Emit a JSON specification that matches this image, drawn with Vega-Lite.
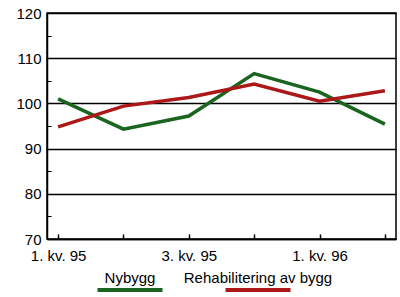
{
  "$schema": "https://vega.github.io/schema/vega-lite/v6.json",
  "autosize": "pad",
  "padding": {"left": 15, "top": 5, "right": 5, "bottom": 0},
  "background": "white",
  "spacing": 6,
  "config": {
    "font": "Liberation Sans",
    "axis": {"labelFont": "Liberation Sans", "labelFontSize": 15, "labelColor": "black", "domainColor": "black", "tickColor": "black"}
  },
  "vconcat": [
    {
      "width": 349,
      "height": 226,
      "view": {"stroke": "black", "strokeWidth": 1.5},
      "data": {"values": [
        {"kvartal": "1. kv. 95", "serie": "Nybygg", "indeks": 101.0},
        {"kvartal": "2. kv. 95", "serie": "Nybygg", "indeks": 94.3},
        {"kvartal": "3. kv. 95", "serie": "Nybygg", "indeks": 97.2},
        {"kvartal": "4. kv. 95", "serie": "Nybygg", "indeks": 106.6},
        {"kvartal": "1. kv. 96", "serie": "Nybygg", "indeks": 102.5},
        {"kvartal": "2. kv. 96", "serie": "Nybygg", "indeks": 95.4},
        {"kvartal": "1. kv. 95", "serie": "Rehabilitering av bygg", "indeks": 94.8},
        {"kvartal": "2. kv. 95", "serie": "Rehabilitering av bygg", "indeks": 99.4},
        {"kvartal": "3. kv. 95", "serie": "Rehabilitering av bygg", "indeks": 101.3},
        {"kvartal": "4. kv. 95", "serie": "Rehabilitering av bygg", "indeks": 104.3},
        {"kvartal": "1. kv. 96", "serie": "Rehabilitering av bygg", "indeks": 100.5},
        {"kvartal": "2. kv. 96", "serie": "Rehabilitering av bygg", "indeks": 102.8}
      ]},
      "layer": [
        {
          "mark": {"type": "line", "strokeWidth": 3.5},
          "encoding": {
            "x": {
              "field": "kvartal", "type": "ordinal", "sort": null,
              "scale": {"type": "point", "padding": 0.17},
              "axis": {"title": null, "labelAngle": 0, "tickSize": -5, "tickWidth": 1.5, "domainWidth": 1.5, "labelPadding": 14,
                       "labelExpr": "indexof(['1. kv. 95','3. kv. 95','1. kv. 96'], datum.label) >= 0 ? datum.label : ''"}
            },
            "y": {
              "field": "indeks", "type": "quantitative",
              "scale": {"domain": [70, 120], "nice": false, "zero": false},
              "axis": {"title": null, "values": [70, 80, 90, 100, 110, 120], "grid": true, "gridColor": "black", "gridOpacity": 1, "gridWidth": 1.5,
                       "ticks": false, "domainWidth": 1.5, "labelPadding": 6}
            },
            "color": {
              "field": "serie", "type": "nominal",
              "scale": {"domain": ["Nybygg", "Rehabilitering av bygg"], "range": ["#1a6420", "#ac1818"]},
              "legend": null
            }
          }
        },
        {
          "mark": {"type": "line", "opacity": 0},
          "encoding": {
            "x": {"field": "kvartal", "type": "ordinal", "sort": null},
            "y": {
              "field": "indeks", "type": "quantitative",
              "axis": {"orient": "left", "title": null, "values": [75, 85, 95, 105, 115], "labels": false, "grid": false, "domain": false, "tickSize": -4, "tickWidth": 1}
            },
            "detail": {"field": "serie"}
          }
        }
      ],
      "resolve": {"axis": {"y": "independent"}}
    },
    {
      "width": 349,
      "height": 30,
      "view": {"stroke": null},
      "data": {"values": [
        {"serie": "Nybygg"},
        {"serie": "Rehabilitering av bygg"}
      ]},
      "layer": [
        {
          "mark": {"type": "text", "fontSize": 15, "color": "black", "dy": -7, "font": "Liberation Sans"},
          "encoding": {
            "x": {"field": "serie", "type": "nominal", "scale": {"type": "point", "range": [83, 211], "padding": 0}, "axis": null},
            "text": {"field": "serie"}
          }
        },
        {
          "mark": {"type": "tick", "orient": "horizontal", "size": 65, "thickness": 4, "yOffset": 5, "opacity": 1},
          "encoding": {
            "x": {"field": "serie", "type": "nominal", "axis": null},
            "color": {"field": "serie", "type": "nominal", "legend": null}
          }
        }
      ]
    }
  ],
  "resolve": {"scale": {"x": "independent", "y": "independent"}}
}
